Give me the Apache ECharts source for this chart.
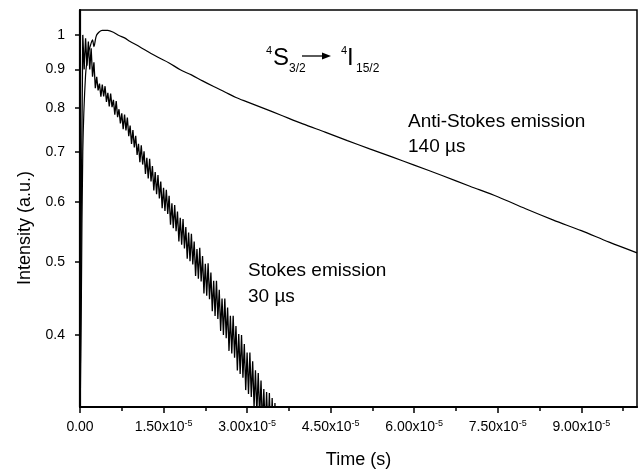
<!DOCTYPE html>
<html><head><meta charset="utf-8">
<script src="https://cdn.jsdelivr.net/npm/echarts@6/dist/echarts.min.js"></script>
<style>html,body{margin:0;padding:0;background:#fff}#c{width:639px;height:474px}</style>
</head><body><div id="c"></div>
<script>
// ---- data (time in microseconds, intensity in a.u.) ----
const antiStokesTimeUs = [0,0.25,0.5,1,1.5,2,2.25,2.5,3,4,5,6,7,8,9,10,12,14,16,18,20,22,24,26,28,30,33,36,40,44,48,52,56,60,65,70,75,80,85,90,95,100];
const antiStokesIntensity = [0.30,0.45,0.70,0.885,0.946,0.975,0.985,0.965,1.0,1.014,1.014,1.008,0.998,0.991,0.980,0.971,0.952,0.934,0.918,0.899,0.885,0.869,0.854,0.840,0.826,0.815,0.799,0.783,0.762,0.743,0.724,0.706,0.689,0.672,0.651,0.630,0.610,0.588,0.568,0.550,0.531,0.514];
const stokesStepUs = 0.25; // sampling interval of the Stokes trace
const stokesIntensity = [
0.30,0.62,1.00,0.90,0.99,0.91,0.98,0.90,0.96,0.88,0.92,0.85,
0.880,0.844,0.862,0.828, 0.859,0.829,0.855,0.815, 0.838,0.804,0.836,0.802,
0.820,0.784,0.817,0.778, 0.797,0.763,0.787,0.750, 0.784,0.747,0.777,0.734,
0.758,0.717,0.748,0.709, 0.735,0.693,0.717,0.678, 0.714,0.673,0.701,0.654,
0.687,0.645,0.685,0.639, 0.670,0.622,0.658,0.615, 0.652,0.607,0.639,0.589,
0.627,0.584,0.623,0.579, 0.612,0.560,0.598,0.554, 0.595,0.549,0.583,0.532,
0.572,0.527,0.570,0.521, 0.556,0.505,0.547,0.501, 0.545,0.496,0.532,0.479,
0.520,0.475,0.522,0.471, 0.509,0.454,0.497,0.451, 0.498,0.446,0.484,0.430,
0.472,0.424,0.472,0.420, 0.459,0.405,0.447,0.400, 0.447,0.396,0.435,0.381,
0.424,0.378,0.424,0.373, 0.411,0.359,0.401,0.355, 0.400,0.351,0.389,0.338,
0.379,0.334,0.379,0.331, 0.369,0.321,0.359,0.316, 0.356,0.312,0.348,0.303,
0.339,0.299,0.336,0.295, 0.335,0.288,0.330,0.285, 0.325,0.280,0.290];
const xMajorTicks = [0,1.5e-5,3.0e-5,4.5e-5,6.0e-5,7.5e-5,9.0e-5];
const xMinorTicks = [0.75e-5,2.25e-5,3.75e-5,5.25e-5,6.75e-5,8.25e-5,9.75e-5];
const yTickLabels = [0.4,0.5,0.6,0.7,0.8,0.9,1];
const xRange = [0, 1.0e-4];
const yRange = [0.321, 1.079];

// ---- build ----
const FONT = "'Liberation Sans', Arial, Helvetica, sans-serif";
const lg = v => Math.log10(v);
const antiData = antiStokesTimeUs.map((t,i)=>[t*1e-6, lg(antiStokesIntensity[i])]);
const stokesData = stokesIntensity.map((v,i)=>[i*stokesStepUs*1e-6, lg(v)]);

const chart = echarts.init(document.getElementById('c'), null, {renderer:'canvas'});
chart.setOption({
  animation:false,
  backgroundColor:'#fff',
  grid:{left:80,right:2,top:10,bottom:67,show:true,borderColor:'#000',borderWidth:1.5,backgroundColor:'transparent'},
  xAxis:[{
    type:'value', min:xRange[0], max:xRange[1],
    name:'Time (s)', nameLocation:'middle', nameGap:44,
    nameTextStyle:{fontFamily:FONT,fontSize:18,color:'#000'},
    axisLine:{show:true,onZero:false,lineStyle:{color:'#000',width:2.2}},
    axisTick:{show:true,inside:false,length:6,lineStyle:{color:'#000',width:1.5},customValues:xMajorTicks},
    splitLine:{show:false},
    axisLabel:{customValues:xMajorTicks,margin:12,color:'#000',
      formatter:v=> Math.abs(v)<1e-12 ? '{b|0.00}' : '{b|'+(v*1e5).toFixed(2)+'x10}{s|-5}',
      rich:{b:{fontFamily:FONT,fontSize:14,color:'#000',lineHeight:16},
            s:{fontFamily:FONT,fontSize:9,color:'#000',verticalAlign:'top',lineHeight:9}}}
  },{
    type:'value', min:xRange[0], max:xRange[1], position:'bottom', offset:0,
    axisLine:{show:false,onZero:false}, splitLine:{show:false}, axisLabel:{show:false},
    axisTick:{show:true,inside:false,length:4,lineStyle:{color:'#000',width:1.5},customValues:xMinorTicks}
  }],
  yAxis:{
    type:'value', min:lg(yRange[0]), max:lg(yRange[1]),
    name:'Intensity (a.u.)', nameLocation:'middle', nameGap:46,
    nameTextStyle:{fontFamily:FONT,fontSize:18,color:'#000',padding:[0,39,0,0]},
    axisLine:{show:true,onZero:false,lineStyle:{color:'#000',width:2.2}},
    axisTick:{show:true,inside:false,length:5,lineStyle:{color:'#000',width:1.5},customValues:yTickLabels.map(lg)},
    splitLine:{show:false},
    axisLabel:{customValues:yTickLabels.map(lg),margin:15,color:'#000',fontFamily:FONT,fontSize:14,
      formatter:v=>{const r=Math.round(Math.pow(10,v)*10)/10; return r===1?'1':r.toFixed(1);}}
  },
  series:[
    {type:'line',name:'Anti-Stokes emission',xAxisIndex:0,data:antiData,showSymbol:false,symbol:'none',smooth:0.3,
     lineStyle:{color:'#000',width:1.2},clip:true,z:3},
    {type:'line',name:'Stokes emission',xAxisIndex:0,data:stokesData,showSymbol:false,symbol:'none',
     lineStyle:{color:'#000',width:1.3},clip:true,z:2}
  ],
  graphic:[
    {type:'text',x:408,y:121.5,style:{text:'Anti-Stokes emission',font:'19px '+FONT,fill:'#000',verticalAlign:'middle'}},
    {type:'text',x:408,y:147,style:{text:'140 \u00b5s',font:'19px '+FONT,fill:'#000',verticalAlign:'middle'}},
    {type:'text',x:248,y:270.5,style:{text:'Stokes emission',font:'19px '+FONT,fill:'#000',verticalAlign:'middle'}},
    {type:'text',x:248,y:297,style:{text:'30 \u00b5s',font:'19px '+FONT,fill:'#000',verticalAlign:'middle'}},
    {type:'text',x:266,y:51,style:{text:'4',font:'11px '+FONT,fill:'#000',verticalAlign:'middle'}},
    {type:'text',x:273,y:58,style:{text:'S',font:'24px '+FONT,fill:'#000',verticalAlign:'middle'}},
    {type:'text',x:289,y:69,style:{text:'3/2',font:'12px '+FONT,fill:'#000',verticalAlign:'middle'}},
    {type:'line',shape:{x1:302,y1:56,x2:324,y2:56},style:{stroke:'#000',lineWidth:1.3}},
    {type:'polygon',shape:{points:[[322,52.5],[331,56],[322,59.5]]},style:{fill:'#000'}},
    {type:'text',x:341,y:51,style:{text:'4',font:'11px '+FONT,fill:'#000',verticalAlign:'middle'}},
    {type:'text',x:347,y:58,style:{text:'I',font:'24px '+FONT,fill:'#000',verticalAlign:'middle'}},
    {type:'text',x:356,y:69,style:{text:'15/2',font:'12px '+FONT,fill:'#000',verticalAlign:'middle'}}
  ]
});
</script></body></html>
